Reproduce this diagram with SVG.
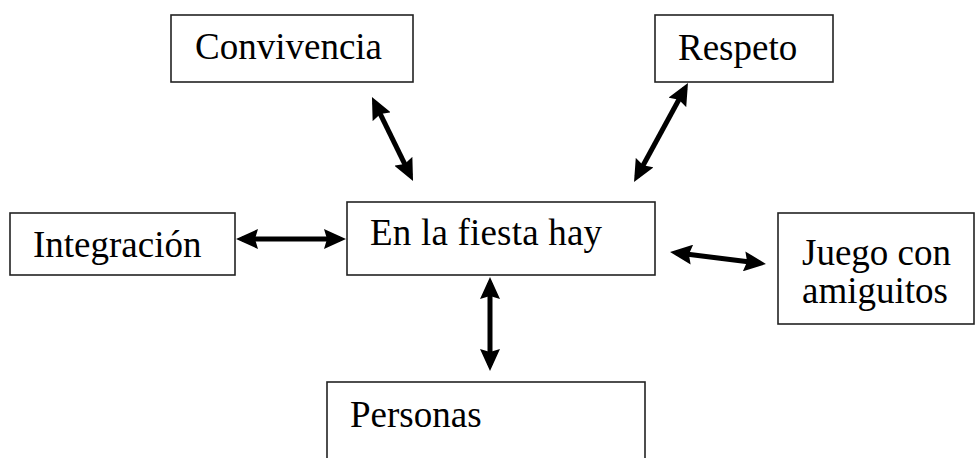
<svg xmlns="http://www.w3.org/2000/svg" width="976" height="458" viewBox="0 0 976 458">
<style>
.box{fill:#fff;stroke:#222;stroke-width:1.6}
.t{font-family:"Liberation Serif","Times New Roman",serif;font-size:37px;fill:#000}
.c{fill:none;stroke:#000;stroke-width:5}
</style>
<defs>
<marker id="ah" viewBox="0 0 22 20" refX="16" refY="10" markerWidth="22" markerHeight="20" markerUnits="userSpaceOnUse" orient="auto-start-reverse">
<path d="M0,0 L22,10 L0,20 L3,10 Z" fill="#000"/>
</marker>
</defs>
<rect width="976" height="458" fill="#fff"/>
<g id="connectors">
<path class="c" d="M242,239 L340,239" marker-start="url(#ah)" marker-end="url(#ah)"/>
<path class="c" d="M676,252.7 L760,263.3" marker-start="url(#ah)" marker-end="url(#ah)"/>
<path class="c" d="M490,283 L490,365" marker-start="url(#ah)" marker-end="url(#ah)"/>
<path class="c" d="M374.6,102.4 L410.4,175.6" marker-start="url(#ah)" marker-end="url(#ah)"/>
<path class="c" d="M685.1,88.3 L636.9,176.7" marker-start="url(#ah)" marker-end="url(#ah)"/>
</g>
<g id="convivencia">
<rect class="box" x="171" y="15" width="242" height="67"/>
<text class="t" x="195" y="59">Convivencia</text>
</g>
<g id="respeto">
<rect class="box" x="655" y="15" width="178" height="67"/>
<text class="t" x="678" y="60">Respeto</text>
</g>
<g id="integracion">
<rect class="box" x="10" y="213" width="225" height="62"/>
<text class="t" x="33" y="257">Integración</text>
</g>
<g id="fiesta">
<rect class="box" x="347" y="202" width="308" height="73"/>
<text class="t" x="370" y="245" textLength="232">En la fiesta hay</text>
</g>
<g id="juego">
<rect class="box" x="778" y="213" width="196" height="111"/>
<text class="t" x="802" y="265">Juego con</text>
<text class="t" x="802" y="303">amiguitos</text>
</g>
<g id="personas">
<rect class="box" x="327" y="382" width="318" height="90"/>
<text class="t" x="350" y="427">Personas</text>
</g>
</svg>
